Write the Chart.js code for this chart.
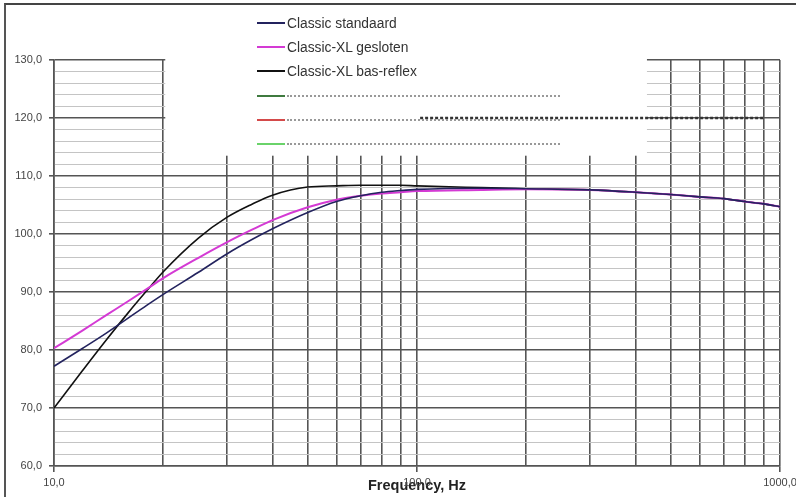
<!DOCTYPE html>
<html>
<head>
<meta charset="utf-8">
<script src="https://cdn.jsdelivr.net/npm/chart.js@4/dist/chart.umd.min.js"></script>
<style>
  html, body { margin: 0; padding: 0; background: #fff; }
  #wrap { position: relative; width: 796px; height: 497px; overflow: hidden; }
  #frame { position: absolute; left: 4px; top: 3px; right: -4px; bottom: -4px;
           border-top: 2px solid #444; border-left: 2px solid #555; pointer-events: none; }
  #legend { position: absolute; left: 257px; top: 11px; font-family: "Liberation Sans", Arial, sans-serif;
            font-size: 13.8px; color: #333; }
  .row { height: 24.2px; display: flex; align-items: center; }
  .swatch { width: 28px; height: 0; border-top: 2px solid #000; }
  .dots { width: 273px; height: 0; border-top: 2px dotted #999; margin-left: 2px; }
  .label { margin-left: 2px; white-space: nowrap; }
</style>
</head>
<body>
<div id="wrap">
  <canvas id="chart" width="796" height="497"></canvas>
  <div id="legend"></div>
  <div id="frame"></div>
</div>
<script>
// response curves (dB vs Hz)
const freqs = [10, 12, 14, 16, 18, 20, 25, 30, 35, 40, 50, 60, 70, 80, 90, 100, 150, 200, 300, 400, 500, 600, 700, 800, 900, 1000];
const standaard = [77.2, 80.3, 83.0, 85.5, 87.7, 89.6, 93.4, 96.6, 99.0, 100.9, 103.7, 105.6, 106.6, 107.2, 107.5, 107.7, 107.9, 107.8, 107.6, 107.2, 106.8, 106.4, 106.1, 105.6, 105.2, 104.7];
const gesloten  = [80.3, 83.4, 86.1, 88.4, 90.5, 92.4, 95.9, 98.6, 100.7, 102.4, 104.6, 105.9, 106.6, 107.0, 107.2, 107.4, 107.6, 107.7, 107.6, 107.2, 106.8, 106.4, 106.1, 105.6, 105.2, 104.7];
const basReflex = [70.0, 76.5, 81.9, 86.4, 90.2, 93.5, 99.3, 102.9, 105.1, 106.7, 108.1, 108.3, 108.4, 108.4, 108.4, 108.3, 108.0, 107.8, 107.6, 107.2, 106.8, 106.4, 106.1, 105.6, 105.2, 104.7];

// dashed reference line at 120 dB
const refFreqs = [102, 900];
const refLevel = [120, 120];

const seriesNames = ['Classic standaard', 'Classic-XL gesloten', 'Classic-XL bas-reflex'];
const seriesColors = ['#23235e', '#d43ad4', '#111111'];
const extraColors = ['#3f7a3f', '#d44a4a', '#6ad36a'];

const xTicks = [10, 20, 30, 40, 50, 60, 70, 80, 90, 100, 200, 300, 400, 500, 600, 700, 800, 900, 1000];
const xLabelled = [10, 100, 1000];
const yTicks = [];
for (let v = 60; v <= 130; v += 2) yTicks.push(v);

function toPoints(xs, ys) {
  return xs.map((x, i) => ({ x: x, y: ys[i] }));
}

function fmt(v) {
  return v.toFixed(1).replace('.', ',');
}

// legend (html)
const legend = document.getElementById('legend');
seriesNames.forEach((name, i) => {
  const row = document.createElement('div');
  row.className = 'row';
  row.innerHTML = `<span class="swatch" style="border-color:${seriesColors[i]}"></span><span class="label">${name}</span>`;
  legend.appendChild(row);
});
extraColors.forEach(c => {
  const row = document.createElement('div');
  row.className = 'row';
  row.innerHTML = `<span class="swatch" style="border-color:${c}"></span><span class="dots"></span>`;
  legend.appendChild(row);
});

// white block behind the legend, covers the grid
const legendBackdrop = {
  id: 'legendBackdrop',
  beforeDatasetsDraw(chart) {
    const { ctx, scales: { x, y } } = chart;
    const left = x.getPixelForValue(20) + 2;
    const right = x.getPixelForValue(430);
    const bottom = y.getPixelForValue(113.5);
    ctx.save();
    ctx.fillStyle = '#fff';
    ctx.fillRect(left, 40, right - left, bottom - 40);
    ctx.restore();
  }
};

const font = { family: '"Liberation Sans", Arial, sans-serif', size: 11 };

new Chart(document.getElementById('chart'), {
  type: 'line',
  data: {
    datasets: [
      { label: seriesNames[0], data: toPoints(freqs, standaard), borderColor: seriesColors[0], borderWidth: 1.6 },
      { label: seriesNames[1], data: toPoints(freqs, gesloten), borderColor: seriesColors[1], borderWidth: 2 },
      { label: seriesNames[2], data: toPoints(freqs, basReflex), borderColor: seriesColors[2], borderWidth: 1.6 },
      { label: 'ref', data: toPoints(refFreqs, refLevel), borderColor: '#333', borderWidth: 2.5, borderDash: [3, 2] }
    ]
  },
  options: {
    responsive: false,
    animation: false,
    devicePixelRatio: 1,
    layout: { padding: { top: 60, right: 16, left: 0, bottom: 0 } },
    elements: {
      point: { radius: 0 },
      line: { cubicInterpolationMode: 'monotone', fill: false }
    },
    plugins: { legend: { display: false }, tooltip: { enabled: false } },
    scales: {
      x: {
        type: 'logarithmic',
        min: 10,
        max: 1000,
        afterBuildTicks: s => { s.ticks = xTicks.map(v => ({ value: v })); },
        afterFit: s => { s.height = 31; s.paddingLeft = 0; s.paddingRight = 0; },
        ticks: {
          autoSkip: false,
          maxRotation: 0,
          padding: 4,
          color: '#444',
          font: font,
          callback: v => xLabelled.includes(v) ? fmt(v) : ''
        },
        grid: {
          color: '#555',
          lineWidth: 1.6,
          tickLength: 6,
          tickColor: c => xLabelled.includes(c.tick.value) ? '#555' : 'rgba(0,0,0,0)'
        },
        border: { color: '#555', width: 1.6 },
        title: {
          display: true,
          text: 'Frequency, Hz',
          color: '#222',
          font: { family: '"Liberation Sans", Arial, sans-serif', size: 14.5, weight: 'bold' },
          padding: { top: 0, bottom: 2 }
        }
      },
      y: {
        min: 60,
        max: 130,
        afterBuildTicks: s => { s.ticks = yTicks.map(v => ({ value: v })); },
        afterFit: s => { s.width = 54; },
        ticks: {
          autoSkip: false,
          padding: 7,
          color: '#444',
          font: font,
          callback: v => v % 10 === 0 ? fmt(v) : ''
        },
        grid: {
          color: c => c.tick.value % 10 === 0 ? '#555' : '#c4c4c4',
          lineWidth: c => c.tick.value % 10 === 0 ? 1.6 : 1,
          tickLength: 5,
          tickColor: c => c.tick.value % 10 === 0 ? '#555' : 'rgba(0,0,0,0)'
        },
        border: { color: '#555', width: 1.6 }
      }
    }
  },
  plugins: [legendBackdrop]
});
</script>
</body>
</html>
